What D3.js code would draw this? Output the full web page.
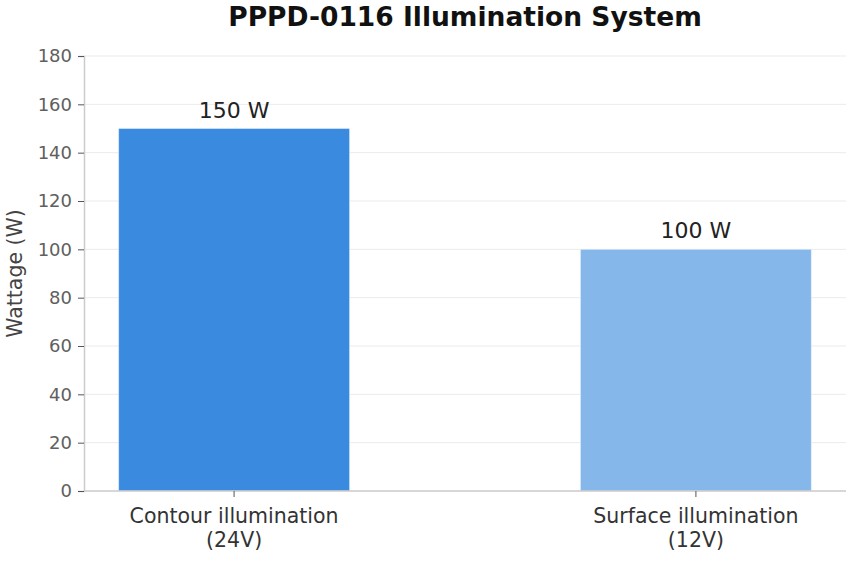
<!DOCTYPE html>
<html>
<head>
<meta charset="utf-8">
<script src="https://cdn.jsdelivr.net/npm/d3@7"></script>
<style>
  body{margin:0;background:#fff;}
  text{font-family:"DejaVu Sans",sans-serif;}
</style>
</head>
<body>
<div class="canvas"></div>
<script>
// chart data
const categories=['Contour illumination\n(24V)','Surface illumination\n(12V)'];
const wattage=[150,100];
const barColors=['#3a8ae0','#86b7ea'];
const yTicks=[0,20,40,60,80,100,120,140,160,180];

const width=861,height=561;
const margin={top:56,right:15,bottom:70,left:84};
const graphWidth=width-margin.left-margin.right;
const graphHeight=height-margin.top-margin.bottom;

const svg=d3.select('.canvas')
  .append('svg')
    .attr('width',width)
    .attr('height',height);

const graph=svg.append('g')
  .attr('transform',`translate(${margin.left},${margin.top})`);

const x=d3.scaleBand()
  .domain(categories)
  .range([0,graphWidth])
  .paddingInner(0.5)
  .paddingOuter(0.075);

const y=d3.scaleLinear()
  .domain([0,180])
  .range([graphHeight,0]);

// gridlines
graph.append('g')
  .selectAll('line')
  .data(yTicks)
  .enter().append('line')
    .attr('x1',0).attr('x2',graphWidth)
    .attr('y1',d=>y(d)).attr('y2',d=>y(d))
    .attr('stroke','#ebebeb')
    .attr('stroke-width',1);

// bars
graph.selectAll('rect')
  .data(wattage)
  .enter().append('rect')
    .attr('x',(d,i)=>x(categories[i]))
    .attr('y',d=>y(d))
    .attr('width',x.bandwidth())
    .attr('height',d=>graphHeight-y(d))
    .attr('fill',(d,i)=>barColors[i])
    .attr('stroke','#ffffff')
    .attr('stroke-opacity',0.4)
    .attr('stroke-width',1);

// value labels
graph.selectAll('.val')
  .data(wattage)
  .enter().append('text')
    .attr('class','val')
    .attr('x',(d,i)=>x(categories[i])+x.bandwidth()/2)
    .attr('y',d=>y(d)-11)
    .attr('text-anchor','middle')
    .attr('font-size','22px')
    .attr('fill','#222')
    .text(d=>d+' W');

// axes
const xAxisGroup=graph.append('g')
  .attr('transform',`translate(0,${graphHeight})`);
const yAxisGroup=graph.append('g');

const yAxis=d3.axisLeft(y).tickValues(yTicks).tickSize(6).tickPadding(6);
yAxisGroup.call(yAxis);
yAxisGroup.select('.domain').attr('stroke','#cccccc').attr('stroke-width',1.5);
yAxisGroup.selectAll('.tick line').attr('stroke','#555');
yAxisGroup.selectAll('.tick text')
  .attr('font-size','18px')
  .attr('fill','#606060')
  .attr('font-family','"DejaVu Sans",sans-serif');

const xAxis=d3.axisBottom(x).tickSize(6).tickPadding(4).tickFormat('');
xAxisGroup.call(xAxis);
xAxisGroup.select('.domain').attr('stroke','#cccccc').attr('stroke-width',1.5)
  .attr('d',`M0,0H${graphWidth}`);
xAxisGroup.selectAll('.tick line').attr('stroke','#555');
xAxisGroup.selectAll('.tick').each(function(d){
  const lines=d.split('\n');
  const t=d3.select(this).append('text')
    .attr('text-anchor','middle')
    .attr('font-size','20.5px')
    .attr('fill','#333')
    .attr('font-family','"DejaVu Sans",sans-serif');
  lines.forEach((l,i)=>{
    t.append('tspan').attr('x',0).attr('y',32+i*24).text(l);
  });
});

// title
svg.append('text')
  .attr('x',margin.left+graphWidth/2)
  .attr('y',26)
  .attr('text-anchor','middle')
  .attr('font-size','26.5px')
  .attr('font-weight','bold')
  .attr('fill','#111')
  .text('PPPD-0116 Illumination System');

// y label
svg.append('text')
  .attr('transform',`translate(22,${margin.top+graphHeight/2}) rotate(-90)`)
  .attr('text-anchor','middle')
  .attr('font-size','20.5px')
  .attr('fill','#444')
  .text('Wattage (W)');
</script>
</body>
</html>
